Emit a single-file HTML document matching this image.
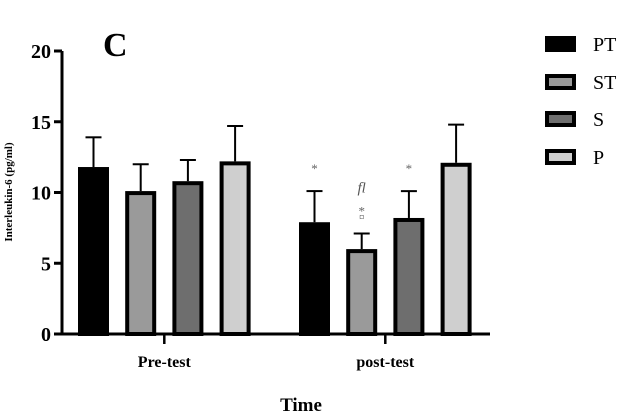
<!DOCTYPE html>
<html><head><meta charset="utf-8"><style>
body{margin:0;background:#fff;}
svg{display:block;font-family:"Liberation Serif",serif;}
</style></head><body>
<svg id="chart" width="634" height="414" viewBox="0 0 634 414">
<text x="103" y="56" font-size="34" font-weight="bold">C</text>
<g id="axes"></g><g id="bars"></g><g id="legend"></g>
<text x="301" y="411" font-size="19" font-weight="bold" text-anchor="middle">Time</text>
<text transform="translate(12,192) rotate(-90)" font-size="11" font-weight="bold" text-anchor="middle">Interleukin-6 (pg/ml)</text>
</svg>
<script>
const groups=["Pre-test","post-test"];
const series=["PT","ST","S","P"];
const fills=["#000","#9a9a9a","#6e6e6e","#cfcfcf"];
const means=[[11.8,10.1,10.8,12.2],[7.9,6.0,8.2,12.1]];
const errs=[[2.1,1.9,1.5,2.5],[2.2,1.1,1.9,2.7]];
const yTicks=[0,5,10,15,20];
const marks=[["*","",""],["*","fl","o"],["*","",""],["","",""]];
const NS="http://www.w3.org/2000/svg";
const svg=document.getElementById('chart');
const y0=334,yTop=51,x0=62,x1=490;
const y=v=>y0-(v/20)*(y0-yTop);
const groupStart=[78,299],step=47.2,bw=31;
function mk(tag,attrs,parent,txt){const e=document.createElementNS(NS,tag);for(const k in attrs)e.setAttribute(k,attrs[k]);if(txt!==undefined)e.textContent=txt;parent.appendChild(e);return e;}
const ax=document.getElementById('axes');
let e=mk('line',{x1:x0,y1:yTop,x2:x0,y2:y0+1.5,stroke:'#000','stroke-width':3},ax);


e=mk('line',{x1:x0-1.5,y1:y0,x2:x1,y2:y0,stroke:'#000','stroke-width':3},ax);


yTicks.forEach(t=>{
 mk('line',{x1:x0-8,y1:y(t),x2:x0,y2:y(t),stroke:'#000','stroke-width':3},ax);
 const l=mk('text',{x:x0-11,y:y(t)+7,'font-size':20,'font-weight':'bold','text-anchor':'end'},ax,t);
 
 
});
const bars=document.getElementById('bars');
groups.forEach((g,gi)=>{
 const cx=groupStart[gi]+1.5*step+bw/2;
 mk('line',{x1:cx,y1:y0,x2:cx,y2:y0+10,stroke:'#000','stroke-width':2.5},ax);
 const l=mk('text',{x:cx,y:y0+33,'font-size':16,'font-weight':'bold','text-anchor':'middle'},ax,g);
 
 
 series.forEach((s,si)=>{
  const bx=groupStart[gi]+si*step, top=y(means[gi][si]), et=y(means[gi][si]+errs[gi][si]), c=bx+bw/2;
  const ln=mk('line',{x1:c,y1:et,x2:c,y2:top,stroke:'#000','stroke-width':2},bars);
  
  
  mk('line',{x1:c-8,y1:et,x2:c+8,y2:et,stroke:'#000','stroke-width':2},bars);
  const r=mk('rect',{x:bx+2,y:top+2,width:bw-4,height:y0-top-2,fill:fills[si],stroke:'#000','stroke-width':4},bars);
  
  
  if(gi===1){
   const m=marks[si];
   if(m[0]){const t=mk('text',{x:c,y:et-18,'font-size':13,fill:'#666','text-anchor':'middle'},bars,'*');}
   if(m[1]){const t=mk('text',{x:c,y:et-41,'font-size':15,'font-style':'italic',fill:'#555','text-anchor':'middle'},bars,m[1]);}
   if(m[2]){const t=mk('text',{x:c,y:et-13,'font-size':11,fill:'#666','text-anchor':'middle'},bars,'¤');}
  }
 });
});
const lg=document.getElementById('legend');
const ly=[44,82,119,157];
series.forEach((s,i)=>{
 const g=mk('g',{},lg);
 
 
 mk('rect',{x:547,y:ly[i]-6,width:27,height:12,fill:fills[i],stroke:'#000','stroke-width':4},g);
 mk('text',{x:593,y:ly[i]+7,'font-size':20},g,s);
});
</script>
</body></html>
